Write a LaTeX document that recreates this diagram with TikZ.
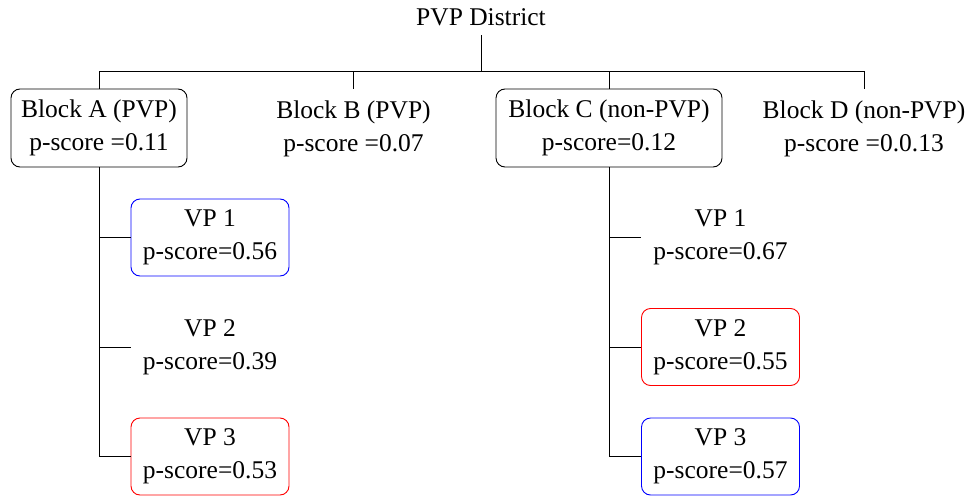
\documentclass[tikz,border=0pt]{standalone}
\usepackage{fontspec}
\setmainfont{Liberation Serif}
\begin{document}
\begin{tikzpicture}[x=1pt,y=-1pt,
  every node/.style={font=\fontsize{25.5}{33}\selectfont, align=center, inner sep=0pt},
  blk/.style={minimum height=78pt, rounded corners=9pt, line width=0.9pt},
  vp/.style={minimum width=158pt, minimum height=77pt, rounded corners=9pt, line width=0.9pt},
  conn/.style={line width=0.9pt}]
\useasboundingbox (0,0) rectangle (971,495);
\node[minimum height=36pt] (dist) at (481,17) {PVP District};
\node[blk, draw, minimum width=176pt] (A) at (99,128) {Block A (PVP)\\p-score =0.11};
\node[blk, minimum width=176pt] (B) at (353.5,128.5) {Block B (PVP)\\p-score =0.07};
\node[blk, draw, minimum width=226pt] (C) at (609,128) {Block C (non-PVP)\\p-score=0.12};
\node[blk, minimum width=210pt] (D) at (864,128.5) {Block D (non-PVP)\\p-score =0.0.13};
\coordinate (bar) at (481,71);
\draw[conn] (dist.south) -- (bar);
\draw[conn] (bar) -| (A.north);
\draw[conn] (bar) -| (B.north);
\draw[conn] (bar) -| (C.north);
\draw[conn] (bar) -| (D.north);
% Block A children
\node[vp, draw=blue] (a1) at (210,237.5) {VP 1\\p-score=0.56};
\node[vp] (a2) at (210,347) {VP 2\\p-score=0.39};
\node[vp, draw=red] (a3) at (210,456.5) {VP 3\\p-score=0.53};
\draw[conn] (A.south) |- (a1.west);
\draw[conn] (A.south) |- (a2.west);
\draw[conn] (A.south) |- (a3.west);
% Block C children
\node[vp] (c1) at (720.5,237.5) {VP 1\\p-score=0.67};
\node[vp, draw=red] (c2) at (720.5,347) {VP 2\\p-score=0.55};
\node[vp, draw=blue] (c3) at (720.5,456.5) {VP 3\\p-score=0.57};
\draw[conn] (C.south) |- (c1.west);
\draw[conn] (C.south) |- (c2.west);
\draw[conn] (C.south) |- (c3.west);
\end{tikzpicture}
\end{document}
